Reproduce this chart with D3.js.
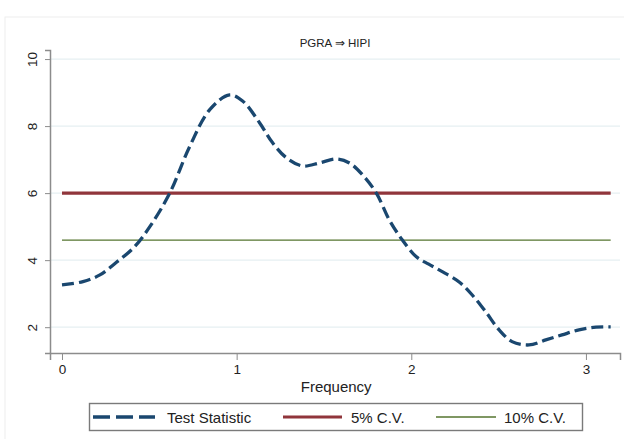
<!DOCTYPE html>
<html>
<head>
<meta charset="utf-8">
<script src="https://cdn.jsdelivr.net/npm/d3@7"></script>
<style>
  html, body { margin: 0; padding: 0; background: #fff; }
  svg { display: block; font-family: Arial, "Liberation Sans", sans-serif; }
</style>
</head>
<body>
<svg id="chart" width="624" height="439"></svg>
<script>
const title = "PGRA \u21D2 HIPI";
const xLabel = "Frequency";
const frequency = [0, 0.12, 0.217, 0.31, 0.41, 0.503, 0.617, 0.731, 0.846, 0.96, 1.034, 1.131, 1.206, 1.286, 1.377, 1.474, 1.571, 1.646, 1.72, 1.8, 1.874, 1.949, 2.029, 2.1, 2.18, 2.274, 2.349, 2.43, 2.503, 2.577, 2.674, 2.77, 2.863, 2.96, 3.057, 3.1416];
const testStatistic = [3.26, 3.36, 3.56, 3.93, 4.37, 5.0, 6.0, 7.39, 8.49, 8.93, 8.75, 8.1, 7.5, 7.05, 6.81, 6.9, 7.02, 6.9, 6.55, 6.0, 5.2, 4.6, 4.1, 3.88, 3.65, 3.35, 2.96, 2.43, 1.92, 1.57, 1.47, 1.62, 1.77, 1.92, 2.0, 2.01];
const cvFrequency = [0, 3.1416];
const cv5 = [6.0, 6.0];
const cv10 = [4.6, 4.6];
const xTicks = [0, 1, 2, 3];
const yTicks = [2, 4, 6, 8, 10];
const legendLabels = ["Test Statistic", "5% C.V.", "10% C.V."];

const svg = d3.select("#chart");
const navy = "#1a476f", maroon = "#90353b", green = "#55752f";

// outer frame
svg.append("rect").attr("x", 5).attr("y", 17).attr("width", 624).attr("height", 430)
  .attr("fill", "none").attr("stroke", "#eeeeee").attr("stroke-width", 1);

const x = d3.scaleLinear().domain([-0.0687, 3.195]).range([50, 620]);
const y = d3.scaleLinear().domain([1.23, 10.27]).range([353, 50]);

// gridlines
svg.append("g").selectAll("line").data(yTicks).join("line")
  .attr("x1", 50).attr("x2", 620)
  .attr("y1", d => y(d)).attr("y2", d => y(d))
  .attr("stroke", "#e6eff2").attr("stroke-width", 1.2);

// y axis
const yAxis = svg.append("g").attr("transform", "translate(50,0)")
  .call(d3.axisLeft(y).tickValues(yTicks).tickSize(5).tickPadding(0).tickFormat(d3.format("d")));
yAxis.select(".domain").attr("stroke", "#8c8c8c").attr("stroke-width", 1.5);
yAxis.selectAll(".tick line").attr("stroke", "#8c8c8c").attr("stroke-width", 1);
yAxis.selectAll(".tick text")
  .attr("font-size", 13.5).attr("fill", "#222").attr("font-family", "Arial, 'Liberation Sans', sans-serif")
  .attr("x", 0).attr("y", 0).attr("dy", 0)
  .attr("text-anchor", "middle")
  .attr("transform", "translate(-13.5,0) rotate(-90)");

// x axis
const xAxis = svg.append("g").attr("transform", "translate(0,353)")
  .call(d3.axisBottom(x).tickValues(xTicks).tickSize(7).tickPadding(4).tickFormat(d3.format("d")));
xAxis.select(".domain").attr("stroke", "#8c8c8c").attr("stroke-width", 1.5);
xAxis.selectAll(".tick line").attr("stroke", "#8c8c8c").attr("stroke-width", 1);
xAxis.selectAll(".tick text").attr("font-size", 13.5).attr("fill", "#222")
  .attr("font-family", "Arial, 'Liberation Sans', sans-serif");

// x label
svg.append("text").attr("x", x(1.57)).attr("y", 392).attr("text-anchor", "middle")
  .attr("font-size", 15).attr("fill", "#222").text(xLabel);

// title
svg.append("text").attr("x", 335).attr("y", 47).attr("text-anchor", "middle")
  .attr("font-size", 11.5).attr("fill", "#222").text(title);

// CV lines
const cvLine = d3.line().x((d, i) => x(cvFrequency[i])).y(d => y(d));
svg.append("path").attr("d", cvLine(cv10)).attr("fill", "none")
  .attr("stroke", green).attr("stroke-width", 1.3);
svg.append("path").attr("d", cvLine(cv5)).attr("fill", "none")
  .attr("stroke", maroon).attr("stroke-width", 3.2);

// test statistic
const statLine = d3.line().x((d, i) => x(frequency[i])).y(d => y(d)).curve(d3.curveCatmullRom.alpha(0.5));
svg.append("path").attr("d", statLine(testStatistic)).attr("fill", "none")
  .attr("stroke", navy).attr("stroke-width", 3.3).attr("stroke-dasharray", "12,5");

// legend
svg.append("rect").attr("x", 89.5).attr("y", 403.5).attr("width", 493).attr("height", 27)
  .attr("fill", "#fff").attr("stroke", "#7a7a7a").attr("stroke-width", 1.4);
const legendItems = [
  {x1: 93, x2: 155, tx: 167, color: navy, w: 3.3, dash: "17,6"},
  {x1: 283, x2: 342, tx: 351, color: maroon, w: 3.2, dash: null},
  {x1: 436, x2: 496, tx: 504, color: green, w: 1.3, dash: null}
];
const lg = svg.append("g").selectAll("g").data(legendItems).join("g");
lg.append("line").attr("x1", d => d.x1).attr("x2", d => d.x2).attr("y1", 417).attr("y2", 417)
  .attr("stroke", d => d.color).attr("stroke-width", d => d.w)
  .attr("stroke-dasharray", d => d.dash);
lg.append("text").attr("x", d => d.tx).attr("y", 422.5).attr("font-size", 15).attr("fill", "#222")
  .text((d, i) => legendLabels[i]);
</script>
</body>
</html>
